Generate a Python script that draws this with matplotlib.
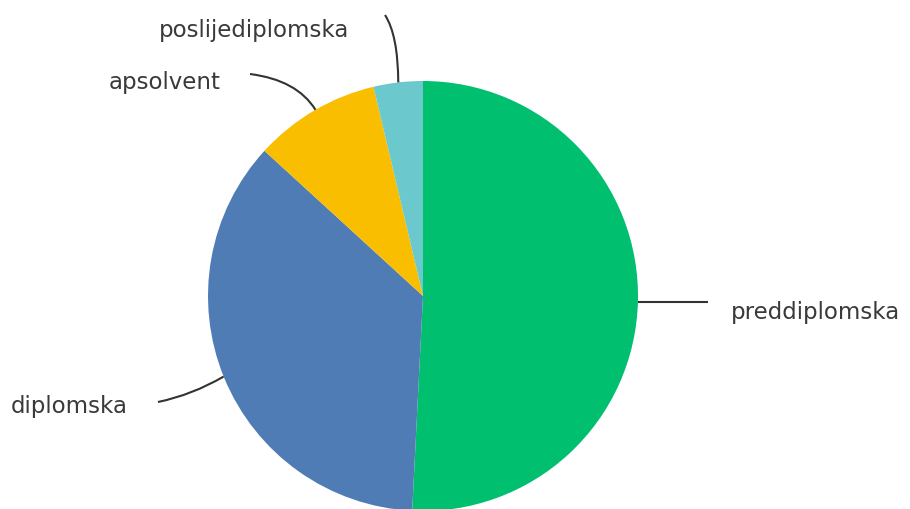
import numpy as np
import matplotlib.pyplot as plt
from matplotlib.path import Path
from matplotlib.patches import PathPatch

labels = ['preddiplomska', 'diplomska', 'apsolvent', 'poslijediplomska']
shares = [50.8, 36.0, 9.5, 3.7]
colors = ['#00BF6F', '#507CB6', '#F9BE00', '#6BC8CD']

W, H = 910, 510
fig = plt.figure(figsize=(W / 100, H / 100), dpi=100)
ax = fig.add_axes([0, 0, 1, 1])

cx, cy, r = 423, H - 297, 215
wedges, _ = ax.pie(shares, colors=colors, startangle=90, counterclock=False,
                   center=(cx, cy), radius=r, frame=True,
                   wedgeprops=dict(linewidth=0))
ax.set_xlim(0, W)
ax.set_ylim(0, H)
ax.set_aspect('equal')
ax.axis('off')

# label spots in pixels from the top-left corner
label_pos = {
    'preddiplomska': (731, 312),
    'diplomska': (11, 407),
    'apsolvent': (109, 82),
    'poslijediplomska': (159, 30),
}
leader_end = {
    'preddiplomska': (708, 303),
    'diplomska': (158, 403),
    'apsolvent': (250, 75),
    'poslijediplomska': (385, 16),
}
leader_ctrl = {
    'preddiplomska': None,
    'diplomska': (192, 396),
    'apsolvent': (297, 81),
    'poslijediplomska': (398, 36),
}
# where each leader touches the rim (degrees, counter-clockwise from +x)
edge_angle = {'preddiplomska': -1.6, 'diplomska': 202,
              'apsolvent': 120, 'poslijediplomska': 96.6}

for w, lab in zip(wedges, labels):
    ang = np.deg2rad(edge_angle[lab])
    sx, sy = cx + r * np.cos(ang), cy + r * np.sin(ang)
    ex, ey = leader_end[lab]
    ey = H - ey
    ctrl = leader_ctrl[lab]
    if ctrl is None:
        verts = [(sx, sy), (ex, ey)]
        codes = [Path.MOVETO, Path.LINETO]
    else:
        verts = [(sx, sy), (ctrl[0], H - ctrl[1]), (ex, ey)]
        codes = [Path.MOVETO, Path.CURVE3, Path.CURVE3]
    ax.add_patch(PathPatch(Path(verts, codes), fill=False, edgecolor='#333333',
                           linewidth=1.5))
    tx, ty = label_pos[lab]
    ax.text(tx, H - ty, lab, ha='left', va='center', fontsize=16.5,
            color='#3a3a3a', family='DejaVu Sans')

fig.savefig('out.png', dpi=100, facecolor='white')
